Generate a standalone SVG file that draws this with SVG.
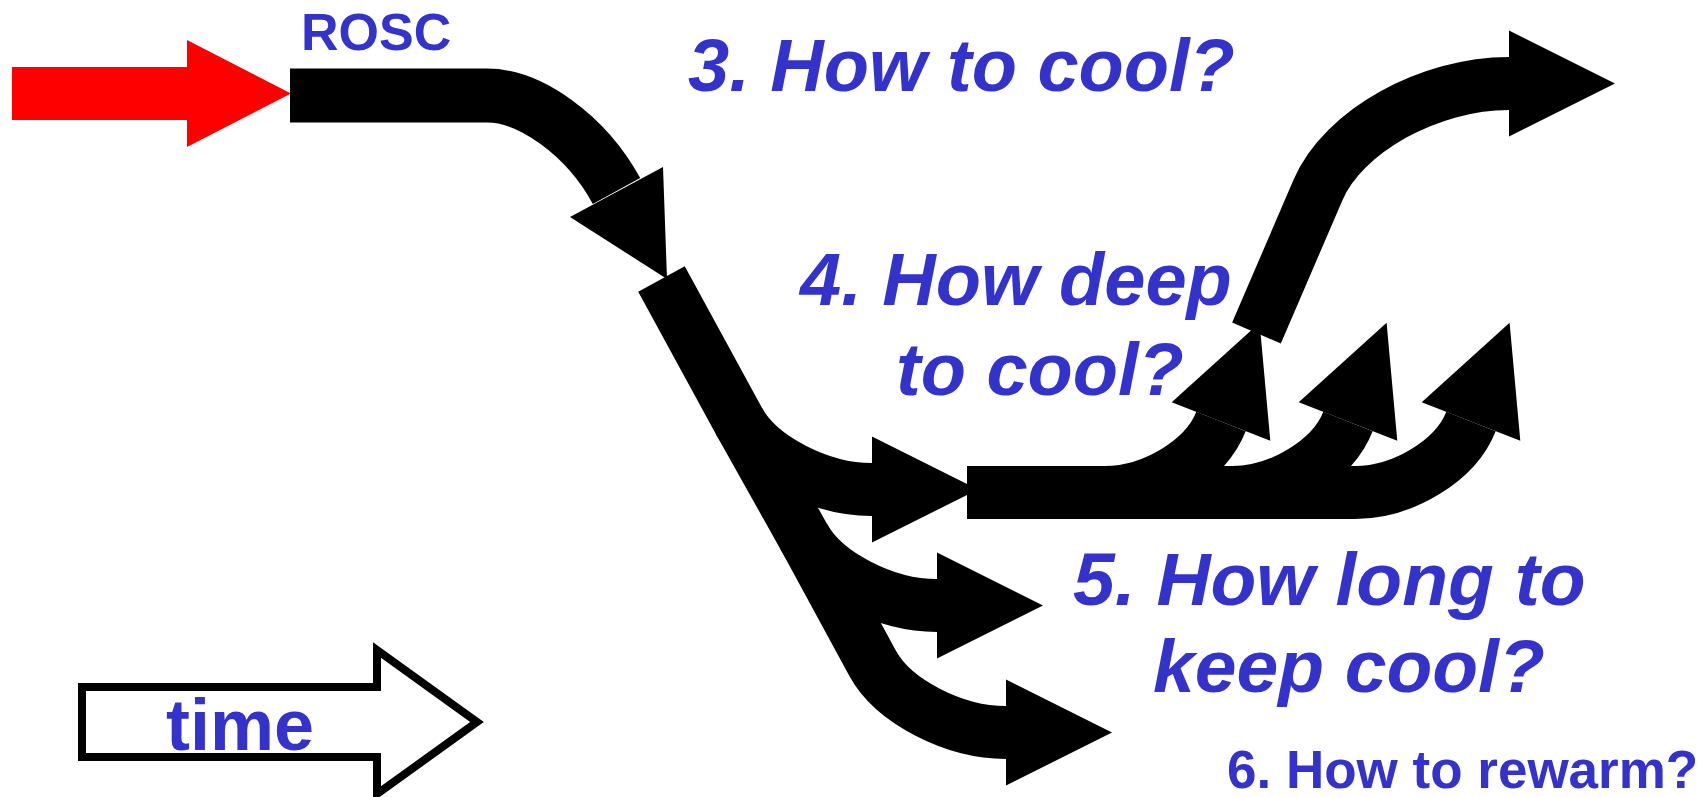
<svg xmlns="http://www.w3.org/2000/svg" width="1701" height="797" viewBox="0 0 1701 797">
  <style>
    .lbl { font-family: "Liberation Sans", Arial, sans-serif; font-weight: bold; fill: #3333CC; }
    .it { font-style: italic; }
    .shaft { fill: none; stroke: #000; stroke-width: 53; stroke-linecap: butt; stroke-linejoin: round; }
    .head { fill: #000; stroke: none; }
  </style>
  <rect width="1701" height="797" fill="#fff"/>

  <g id="start-arrow">
    <polygon points="12,67 187,67 187,40 291,93.5 187,147 187,120 12,120" fill="#FF0000"/>
  </g>

  <g id="connectors">
    <!-- ROSC bar and curve down -->
    <path class="shaft" style="stroke-width:54" d="M 290 95.5 H 487 C 530 95.5, 586 135, 616.5 191"/>
    <polygon class="head" points="570,217 663,167 667,279"/>

    <!-- descending band with three branches -->
    <path class="shaft" d="M 661.5 279 L 738.8 420.7 C 759.4 458.4, 820 489.5, 872 489.5"/>
    <polygon class="head" points="872,436.5 978,489.5 872,542.5"/>
    <path class="shaft" d="M 738.8 420.7 L 803.8 536.7 C 824.4 574.4, 885 605.5, 937 605.5"/>
    <polygon class="head" points="937,552.5 1043,605.5 937,658.5"/>
    <path class="shaft" d="M 803.8 536.7 L 872.8 663.7 C 893.4 701.4, 954 732.5, 1006 732.5"/>
    <polygon class="head" points="1006,679.5 1112,732.5 1006,785.5"/>

    <!-- horizontal bar with three rising arrows -->
    <path class="shaft" d="M 967 492.5 H 1105 C 1153 492.5, 1205.7 460.6, 1221 421.5"/>
    <polygon class="head" points="1171.7,402.2 1259.6,322.8 1270.3,440.8"/>
    <path class="shaft" d="M 1093 492.5 H 1232 C 1280 492.5, 1332.7 460.6, 1348 421.5"/>
    <polygon class="head" points="1298.7,402.2 1386.6,322.8 1397.3,440.8"/>
    <path class="shaft" d="M 1215 492.5 H 1355 C 1403 492.5, 1455.7 460.6, 1471 421.5"/>
    <polygon class="head" points="1421.7,402.2 1509.6,322.8 1520.3,440.8"/>

    <!-- top S-curve arrow -->
    <path class="shaft" d="M 1256.5 333 L 1318 190 C 1343.3 131.2, 1429 83.5, 1509 83.5"/>
    <polygon class="head" points="1509,30.5 1615,83.5 1509,136.5"/>
  </g>

  <g id="label-rosc">
    <text class="lbl" x="301" y="50" font-size="52">ROSC</text>
  </g>
  <g id="label-q3">
    <text class="lbl it" x="688" y="91" font-size="74">3. How to cool?</text>
  </g>
  <g id="label-q4">
    <text class="lbl it" x="800" y="305" font-size="74">4. How deep</text>
    <text class="lbl it" x="896" y="395" font-size="74">to cool?</text>
  </g>
  <g id="label-q5">
    <text class="lbl it" x="1073" y="605" font-size="75">5. How long to</text>
    <text class="lbl it" x="1153" y="692" font-size="75">keep cool?</text>
  </g>
  <g id="label-q6">
    <text class="lbl" x="1227" y="788" font-size="53">6. How to rewarm?</text>
  </g>
  <g id="time-arrow">
    <polygon points="82,687 377,687 377,650 477,722 377,794 377,757 82,757" fill="#fff" stroke="#000" stroke-width="8"/>
    <text class="lbl" x="166" y="750" font-size="72">time</text>
  </g>
</svg>
